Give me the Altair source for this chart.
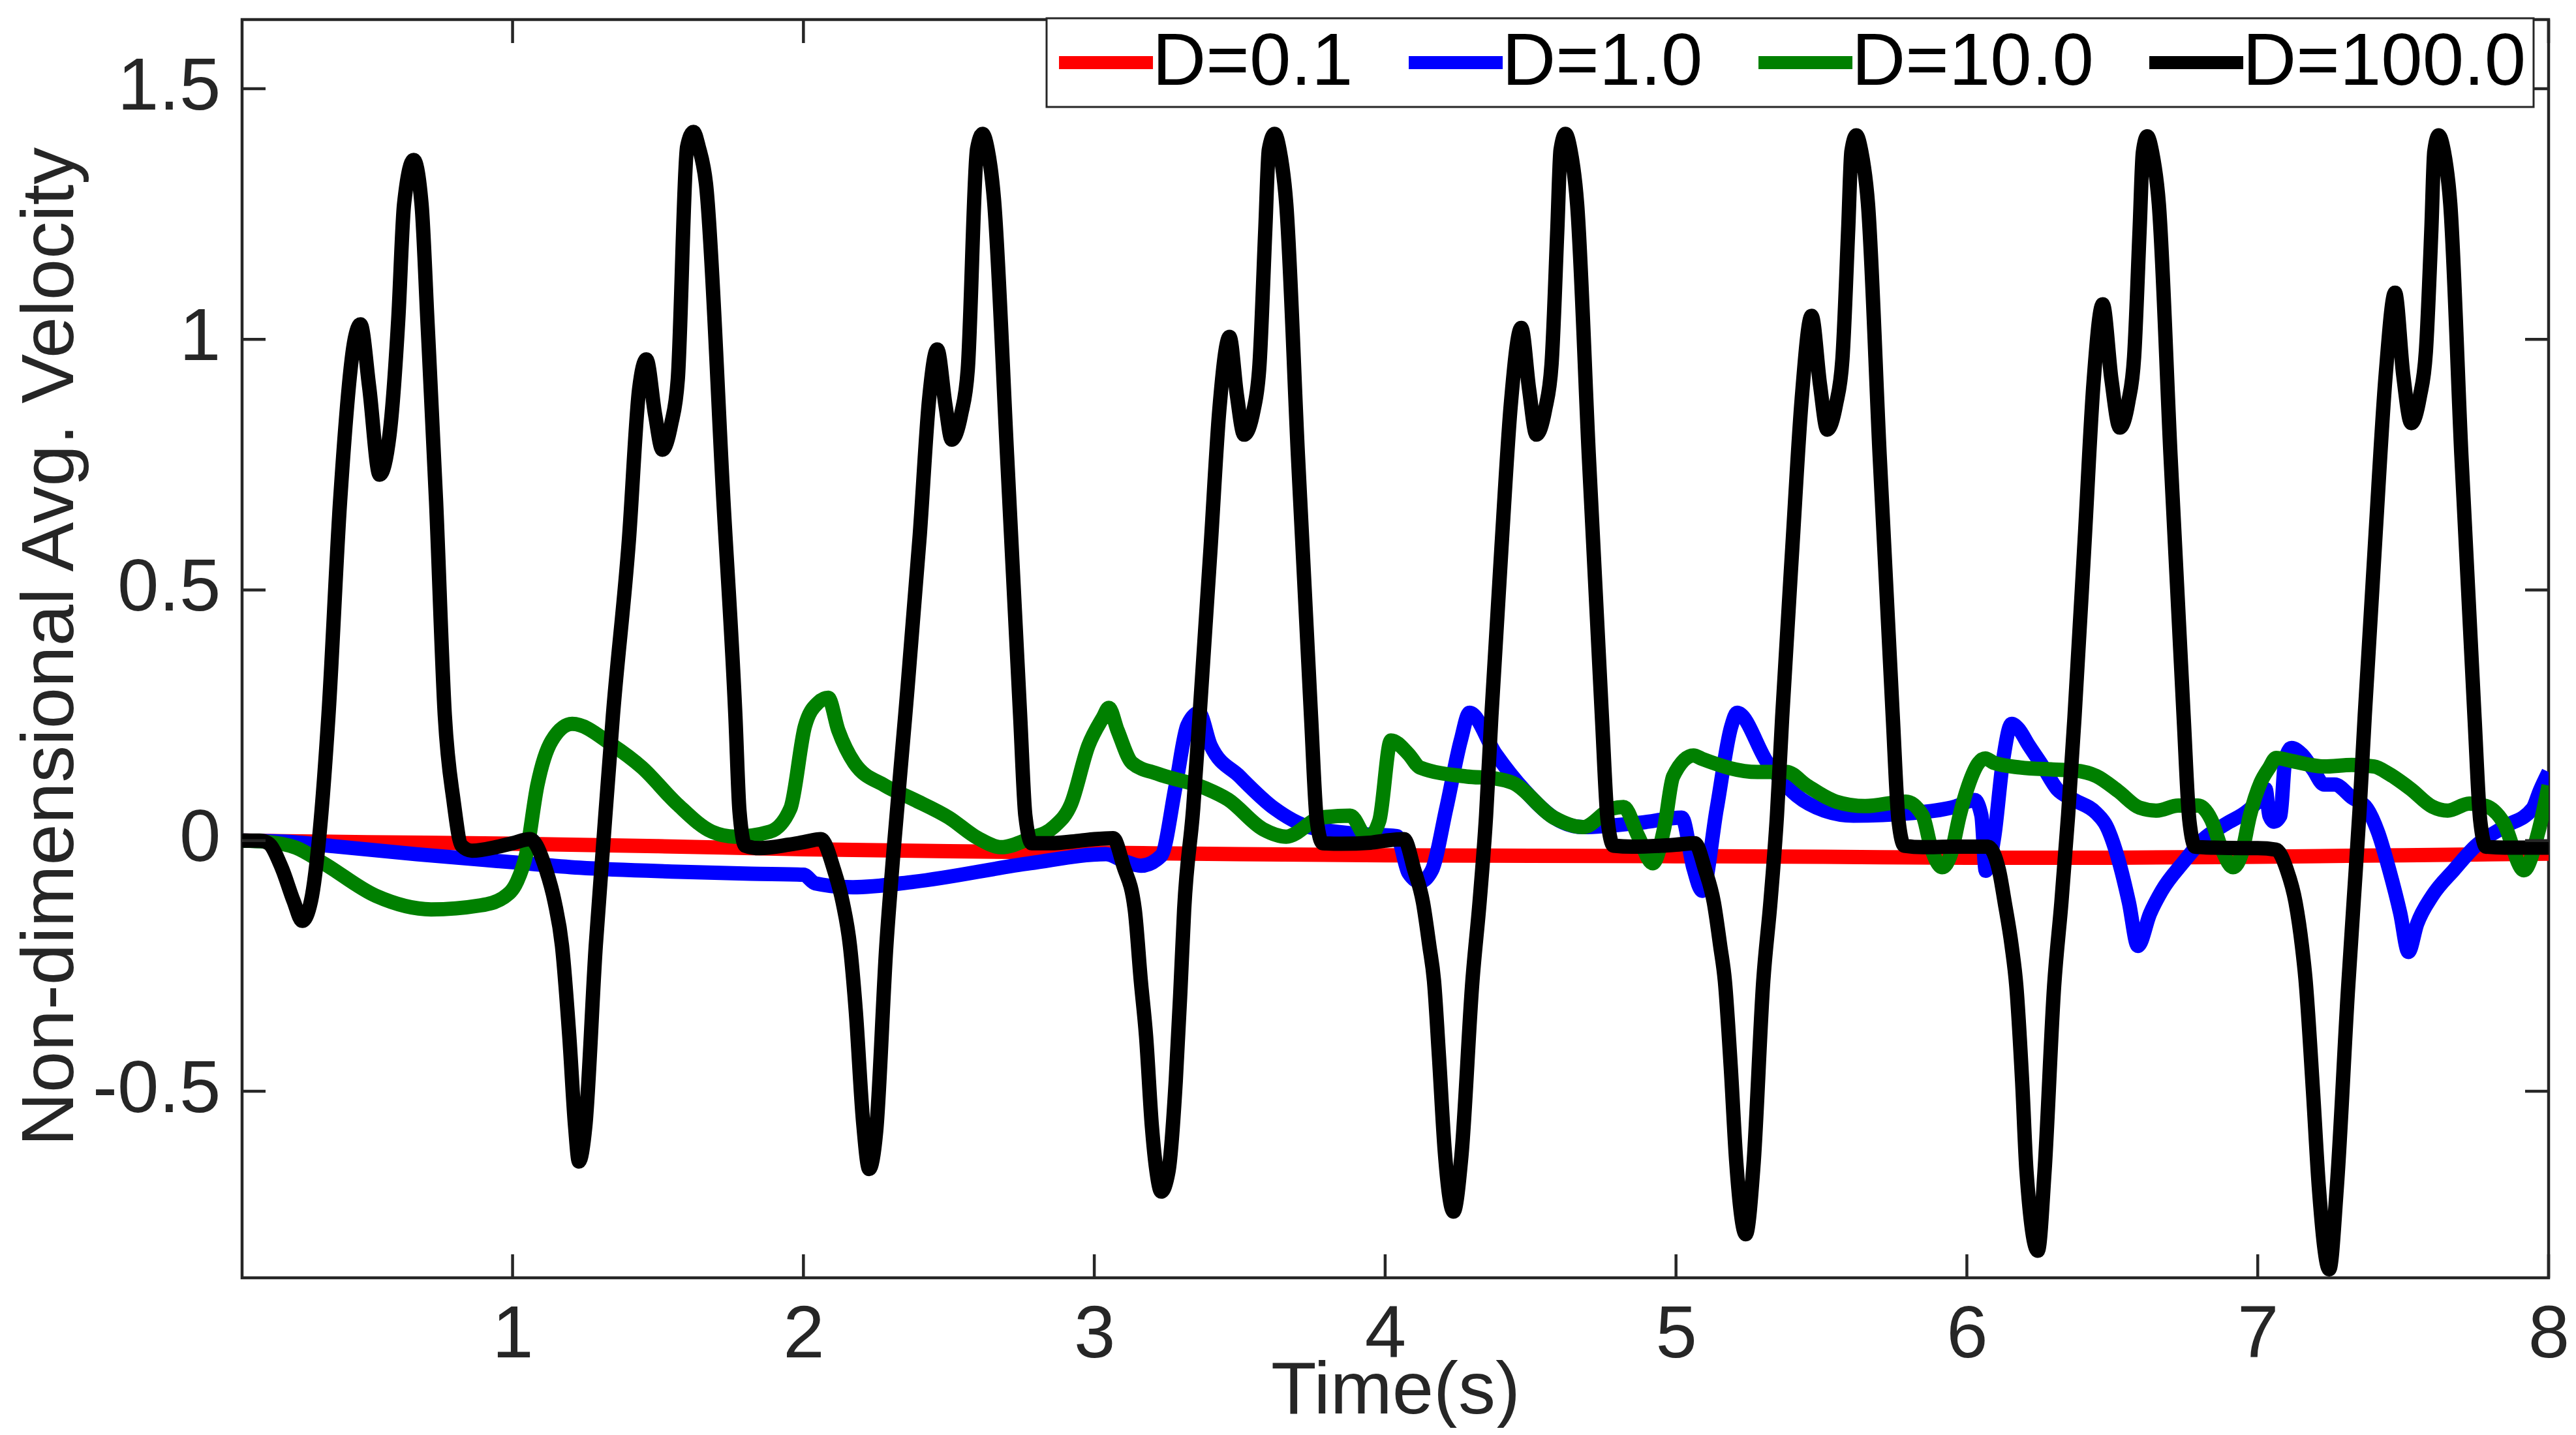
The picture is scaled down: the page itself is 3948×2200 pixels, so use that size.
import altair as alt
import pandas as pd

FONT = "Liberation Sans"
SERIES = ["D=0.1", "D=1.0", "D=10.0", "D=100.0"]
COLORS = ["#ff0000", "#0000ff", "#008000", "#000000"]
X_TICKS = [1, 2, 3, 4, 5, 6, 7, 8]
Y_TICKS = [-0.5, 0, 0.5, 1, 1.5]
X_DOMAIN = [0.07, 8.0]
Y_DOMAIN = [-0.872, 1.638]

RED_T = [0.07, 0.5, 1.0, 1.5, 2.0, 2.5, 3.0, 3.5, 4.0, 4.5, 5.0, 5.5, 6.0, 6.5, 7.0, 7.5, 8.0]
RED_V = [0.0, -0.003, -0.006, -0.011, -0.017, -0.021, -0.024, -0.027, -0.029, -0.030,
         -0.031, -0.032, -0.034, -0.034, -0.032, -0.029, -0.026]

BLUE_T = [0.07, 0.25, 0.35, 0.67, 1.00, 1.23, 1.57, 1.82, 2.00, 2.04, 2.17, 2.38, 2.78, 3.04,
          3.10, 3.16, 3.23, 3.28, 3.32, 3.36, 3.40, 3.50, 3.62, 3.74, 3.90, 4.04, 4.08, 4.12,
          4.16, 4.21, 4.26, 4.29, 4.38, 4.48, 4.58, 4.68, 4.88, 5.02, 5.06, 5.09, 5.14, 5.19,
          5.21, 5.315, 5.415, 5.51, 5.61, 5.81, 5.96, 6.027, 6.05, 6.065, 6.094, 6.124, 6.154,
          6.176, 6.213, 6.258, 6.31, 6.37, 6.445, 6.48, 6.52, 6.557, 6.588, 6.63, 6.67, 6.743,
          6.817, 6.892, 6.966, 7.01, 7.027, 7.04, 7.056, 7.078, 7.094, 7.116, 7.152, 7.19,
          7.228, 7.264, 7.324, 7.376, 7.414, 7.452, 7.49, 7.518, 7.548, 7.60, 7.675, 7.75,
          7.845, 7.945, 7.97, 8.00]
BLUE_V = [0.0, -0.003, -0.009, -0.027, -0.043, -0.054, -0.062, -0.066, -0.068, -0.085, -0.093,
          -0.082, -0.045, -0.027, -0.04, -0.05, -0.03, 0.11, 0.23, 0.255, 0.19, 0.128, 0.064,
          0.027, 0.014, 0.009, -0.064, -0.082, -0.06, 0.064, 0.20, 0.255, 0.173, 0.10, 0.046,
          0.027, 0.036, 0.046, -0.055, -0.10, 0.064, 0.228, 0.255, 0.155, 0.09, 0.06, 0.05,
          0.055, 0.068, 0.081, 0.05, -0.06, 0.008, 0.159, 0.233, 0.224, 0.19, 0.151, 0.103,
          0.081, 0.055, 0.029, -0.036, -0.123, -0.21, -0.145, -0.10, -0.044, 0.005, 0.034,
          0.06, 0.086, 0.103, 0.05, 0.038, 0.05, 0.159, 0.185, 0.172, 0.142, 0.112, 0.112,
          0.086, 0.064, 0.016, -0.058, -0.145, -0.222, -0.166, -0.11, -0.058, -0.01, 0.027,
          0.064, 0.10, 0.137]

GREEN_T = [0.07, 0.15, 0.255, 0.35, 0.53, 0.72, 0.89, 0.97, 1.015, 1.047, 1.085, 1.135, 1.205,
           1.345, 1.445, 1.566, 1.685, 1.765, 1.885, 1.955, 2.005, 2.05, 2.085, 2.12, 2.175,
           2.28, 2.38, 2.50, 2.60, 2.68, 2.78, 2.86, 2.92, 2.98, 3.03, 3.05, 3.08, 3.13, 3.22,
           3.38, 3.46, 3.58, 3.66, 3.78, 3.88, 3.94, 3.98, 4.02, 4.08, 4.12, 4.28, 4.38, 4.44,
           4.58, 4.68, 4.78, 4.82, 4.87, 4.92, 4.96, 4.99, 5.06, 5.09, 5.28, 5.38, 5.45, 5.55,
           5.65, 5.79, 5.848, 5.877, 5.915, 5.945, 5.975, 6.005, 6.04, 6.064, 6.094, 6.183,
           6.295, 6.37, 6.445, 6.52, 6.593, 6.653, 6.727, 6.795, 6.84, 6.877, 6.915, 6.944,
           6.973, 7.01, 7.04, 7.063, 7.116, 7.228, 7.324, 7.40, 7.452, 7.526, 7.60, 7.653,
           7.727, 7.785, 7.845, 7.915, 7.965, 8.00]
GREEN_V = [0.0, -0.002, -0.014, -0.045, -0.11, -0.137, -0.129, -0.113, -0.082, -0.027, 0.11,
           0.20, 0.233, 0.19, 0.146, 0.073, 0.018, 0.008, 0.018, 0.064, 0.228, 0.275, 0.285,
           0.22, 0.155, 0.11, 0.082, 0.046, 0.005, -0.013, 0.005, 0.027, 0.073, 0.19, 0.246,
           0.265, 0.22, 0.155, 0.133, 0.105, 0.082, 0.023, 0.008, 0.046, 0.05, 0.005, 0.04,
           0.20, 0.173, 0.146, 0.128, 0.124, 0.115, 0.046, 0.027, 0.064, 0.067, 0.009, -0.045,
           0.027, 0.128, 0.17, 0.163, 0.137, 0.137, 0.11, 0.078, 0.069, 0.078, 0.05, -0.014,
           -0.053, -0.027, 0.05, 0.11, 0.155, 0.164, 0.155, 0.146, 0.142, 0.14, 0.129, 0.099,
           0.066, 0.06, 0.07, 0.07, 0.042, -0.018, -0.053, -0.027, 0.05, 0.116, 0.146, 0.165,
           0.159, 0.148, 0.151, 0.148, 0.133, 0.103, 0.068, 0.06, 0.074, 0.069, 0.036, -0.059,
           0.018, 0.11]

BLACK_C0 = [(0.07, 0.0), (0.13, 0.0), (0.16, -0.005), (0.207, -0.055), (0.247, -0.12),
            (0.277, -0.16), (0.307, -0.12), (0.337, 0.018), (0.367, 0.25), (0.407, 0.677),
            (0.457, 1.0), (0.477, 1.03), (0.507, 0.905), (0.543, 0.73), (0.577, 0.81),
            (0.607, 1.04), (0.627, 1.27), (0.66, 1.358), (0.687, 1.27), (0.707, 1.04),
            (0.737, 0.677), (0.767, 0.25), (0.797, 0.08), (0.825, -0.01), (0.86, -0.02),
            (0.95, -0.012), (1.0, -0.005)]
BLACK_C1 = [(1.06, 0.003), (1.115, -0.058), (1.145, -0.123), (1.17, -0.21), (1.195, -0.39),
            (1.215, -0.57), (1.228, -0.64), (1.25, -0.57), (1.286, -0.21), (1.31, -0.02),
            (1.345, 0.25), (1.40, 0.60), (1.435, 0.90), (1.46, 0.96), (1.49, 0.85),
            (1.515, 0.78), (1.545, 0.83), (1.568, 0.92), (1.60, 1.384), (1.622, 1.414),
            (1.64, 1.384), (1.665, 1.31), (1.725, 0.677), (1.766, 0.25), (1.78, 0.06),
            (1.80, -0.01), (1.85, -0.015), (1.95, -0.008), (2.0, -0.003)]
BLACK_C2 = [(2.06, 0.003), (2.105, -0.058), (2.135, -0.123), (2.16, -0.21), (2.18, -0.34),
            (2.205, -0.56), (2.226, -0.655), (2.25, -0.58), (2.285, -0.21), (2.31, -0.02),
            (2.35, 0.25), (2.40, 0.61), (2.432, 0.88), (2.46, 0.98), (2.488, 0.87),
            (2.51, 0.80), (2.542, 0.85), (2.565, 0.94), (2.597, 1.38), (2.616, 1.41),
            (2.633, 1.38), (2.655, 1.28), (2.70, 0.77), (2.745, 0.25), (2.763, 0.05),
            (2.785, -0.005), (2.85, -0.005), (2.95, 0.0), (3.0, 0.003)]
BLACK_C3 = [(3.065, 0.005), (3.10, -0.05), (3.139, -0.137), (3.16, -0.28), (3.178, -0.39),
            (3.198, -0.57), (3.214, -0.66), (3.23, -0.70), (3.255, -0.66), (3.28, -0.48),
            (3.296, -0.30), (3.309, -0.137), (3.34, 0.064), (3.362, 0.25), (3.40, 0.586),
            (3.43, 0.86), (3.465, 1.005), (3.49, 0.89), (3.515, 0.81), (3.548, 0.86),
            (3.568, 0.95), (3.588, 1.22), (3.60, 1.378), (3.62, 1.41), (3.637, 1.378),
            (3.66, 1.27), (3.70, 0.77), (3.745, 0.25), (3.765, 0.04), (3.785, -0.005),
            (3.85, -0.006), (3.95, -0.004), (4.0, 0.0)]
BLACK_C4 = [(4.065, 0.003), (4.10, -0.058), (4.13, -0.123), (4.152, -0.21), (4.168, -0.28),
            (4.185, -0.43), (4.205, -0.62), (4.235, -0.74), (4.262, -0.63), (4.30, -0.28),
            (4.325, -0.12), (4.347, 0.05), (4.365, 0.246), (4.40, 0.586), (4.432, 0.87),
            (4.468, 1.023), (4.495, 0.90), (4.52, 0.81), (4.55, 0.86), (4.572, 0.95),
            (4.592, 1.22), (4.603, 1.378), (4.62, 1.41), (4.637, 1.378), (4.66, 1.27),
            (4.70, 0.77), (4.745, 0.25), (4.765, 0.04), (4.785, -0.01), (4.85, -0.012),
            (4.95, -0.01), (5.0, -0.008)]
BLACK_C5 = [(5.065, -0.005), (5.10, -0.058), (5.13, -0.123), (5.152, -0.21), (5.168, -0.28),
            (5.188, -0.45), (5.207, -0.64), (5.24, -0.785), (5.266, -0.65), (5.30, -0.28),
            (5.325, -0.12), (5.347, 0.05), (5.365, 0.246), (5.40, 0.586), (5.432, 0.88),
            (5.466, 1.047), (5.495, 0.91), (5.52, 0.82), (5.55, 0.87), (5.572, 0.96),
            (5.592, 1.22), (5.603, 1.375), (5.62, 1.407), (5.637, 1.375), (5.66, 1.27),
            (5.70, 0.77), (5.745, 0.25), (5.765, 0.04), (5.785, -0.01), (5.85, -0.013),
            (5.95, -0.012), (6.0, -0.012)]
BLACK_C6 = [(6.072, -0.012), (6.11, -0.058), (6.13, -0.123), (6.154, -0.21), (6.17, -0.29),
            (6.19, -0.48), (6.205, -0.66), (6.244, -0.818), (6.267, -0.66), (6.30, -0.29),
            (6.325, -0.123), (6.348, 0.05), (6.37, 0.246), (6.405, 0.60), (6.435, 0.91),
            (6.467, 1.07), (6.497, 0.92), (6.526, 0.824), (6.555, 0.875), (6.575, 0.965),
            (6.594, 1.22), (6.605, 1.373), (6.62, 1.405), (6.637, 1.373), (6.66, 1.27),
            (6.70, 0.77), (6.745, 0.25), (6.765, 0.04), (6.785, -0.012), (6.85, -0.014),
            (6.95, -0.015), (7.0, -0.015)]
BLACK_C7 = [(7.063, -0.018), (7.10, -0.058), (7.13, -0.123), (7.152, -0.21), (7.164, -0.275),
            (7.19, -0.50), (7.21, -0.69), (7.246, -0.855), (7.272, -0.69), (7.31, -0.30),
            (7.33, -0.12), (7.35, 0.06), (7.368, 0.25), (7.405, 0.61), (7.44, 0.93),
            (7.472, 1.093), (7.50, 0.93), (7.528, 0.833), (7.557, 0.885), (7.578, 0.975),
            (7.597, 1.22), (7.607, 1.375), (7.622, 1.407), (7.64, 1.375), (7.662, 1.27),
            (7.70, 0.77), (7.745, 0.25), (7.765, 0.04), (7.785, -0.012), (7.85, -0.014),
            (8.0, -0.014)]
BLACK = BLACK_C0 + BLACK_C1 + BLACK_C2 + BLACK_C3 + BLACK_C4 + BLACK_C5 + BLACK_C6 + BLACK_C7

W, H = 3535, 1929
TICK_LEN = 36
AXIS_COLOR = "#262626"


def series_df(name, ts, vs):
    return pd.DataFrame({"t": ts, "v": vs, "series": name})


frames = [
    series_df(SERIES[0], RED_T, RED_V),
    series_df(SERIES[1], BLUE_T, BLUE_V),
    series_df(SERIES[2], GREEN_T, GREEN_V),
    series_df(SERIES[3], [p[0] for p in BLACK], [p[1] for p in BLACK]),
]

x_scale = alt.Scale(domain=X_DOMAIN, nice=False, zero=False)
y_scale = alt.Scale(domain=Y_DOMAIN, nice=False, zero=False)
color_scale = alt.Scale(domain=SERIES, range=COLORS)

x_axis = alt.Axis(
    values=X_TICKS, title="Time(s)", labelExpr="datum.value + ''",
    ticks=False, domain=False, grid=False,
    labelFont=FONT, labelFontSize=114, labelColor=AXIS_COLOR,
    labelBaseline="alphabetic", labelPadding=121, labelLimit=2000,
    labelFlush=False, labelOverlap=False,
    titleFont=FONT, titleFontSize=114, titleFontWeight="normal", titleColor=AXIS_COLOR,
    titleBaseline="alphabetic", titleAlign="center", titleX=W / 2, titleY=207,
)
y_axis = alt.Axis(
    values=Y_TICKS, title="Non-dimensional Avg. Velocity", labelExpr="datum.value + ''",
    ticks=False, domain=False, grid=False,
    labelFont=FONT, labelFontSize=114, labelColor=AXIS_COLOR, labelPadding=33,
    labelLimit=2000, labelFlush=False, labelOverlap=False, labelOffset=-3,
    titleFont=FONT, titleFontSize=114, titleFontWeight="normal", titleColor=AXIS_COLOR,
    titleAngle=270, titleBaseline="alphabetic", titleAlign="center", titleX=-260, titleY=961,
)

legend = alt.Legend(
    title=None, orient="none", legendX=1233, legendY=-2, direction="horizontal",
    symbolType="M-1.36,0H2.64", symbolSize=5184, symbolStrokeWidth=20,
    labelFont=FONT, labelFontSize=114, labelColor="#000000", labelOffset=37,
    labelLimit=2000, columnPadding=45, padding=11,
    fillColor="#ffffff", strokeColor=AXIS_COLOR,
)

x_enc = alt.X("t:Q", scale=x_scale, axis=x_axis)
y_enc = alt.Y("v:Q", scale=y_scale, axis=y_axis)

line_layers = []
for df in frames:
    line_layers.append(
        alt.Chart(df).mark_line(strokeWidth=22, interpolate="monotone", clip=True,
                                strokeJoin="round").encode(
            x=x_enc, y=y_enc,
            color=alt.Color("series:N", scale=color_scale, legend=legend),
        )
    )

xt_df = pd.DataFrame({"t": X_TICKS})
yt_df = pd.DataFrame({"v": Y_TICKS})
tick_style = dict(color=AXIS_COLOR, strokeWidth=4.5)

bottom_ticks = alt.Chart(xt_df).mark_rule(**tick_style).encode(
    x=x_enc, y=alt.value(H), y2=alt.value(H - TICK_LEN))
top_ticks = alt.Chart(xt_df).mark_rule(**tick_style).encode(
    x=x_enc, y=alt.value(0), y2=alt.value(TICK_LEN))
left_ticks = alt.Chart(yt_df).mark_rule(**tick_style).encode(
    y=y_enc, x=alt.value(0), x2=alt.value(TICK_LEN))
right_ticks = alt.Chart(yt_df).mark_rule(**tick_style).encode(
    y=y_enc, x=alt.value(W), x2=alt.value(W - TICK_LEN))


def build(with_border_width):
    ch = alt.layer(*line_layers, bottom_ticks, top_ticks, left_ticks, right_ticks).properties(
        width=W, height=H,
        autosize=alt.AutoSizeParams(type="none"),
        padding={"left": 363, "top": 22, "right": 34, "bottom": 230},
        background="#ffffff",
    ).configure_view(stroke=AXIS_COLOR, strokeWidth=4.5)
    if with_border_width:
        ch = ch.configure_legend(strokeWidth=3)
    return ch


try:
    chart = build(True)
    chart.to_dict()
except Exception:
    chart = build(False)

chart.save("out.html", embed_options={"renderer": "svg", "actions": False})
